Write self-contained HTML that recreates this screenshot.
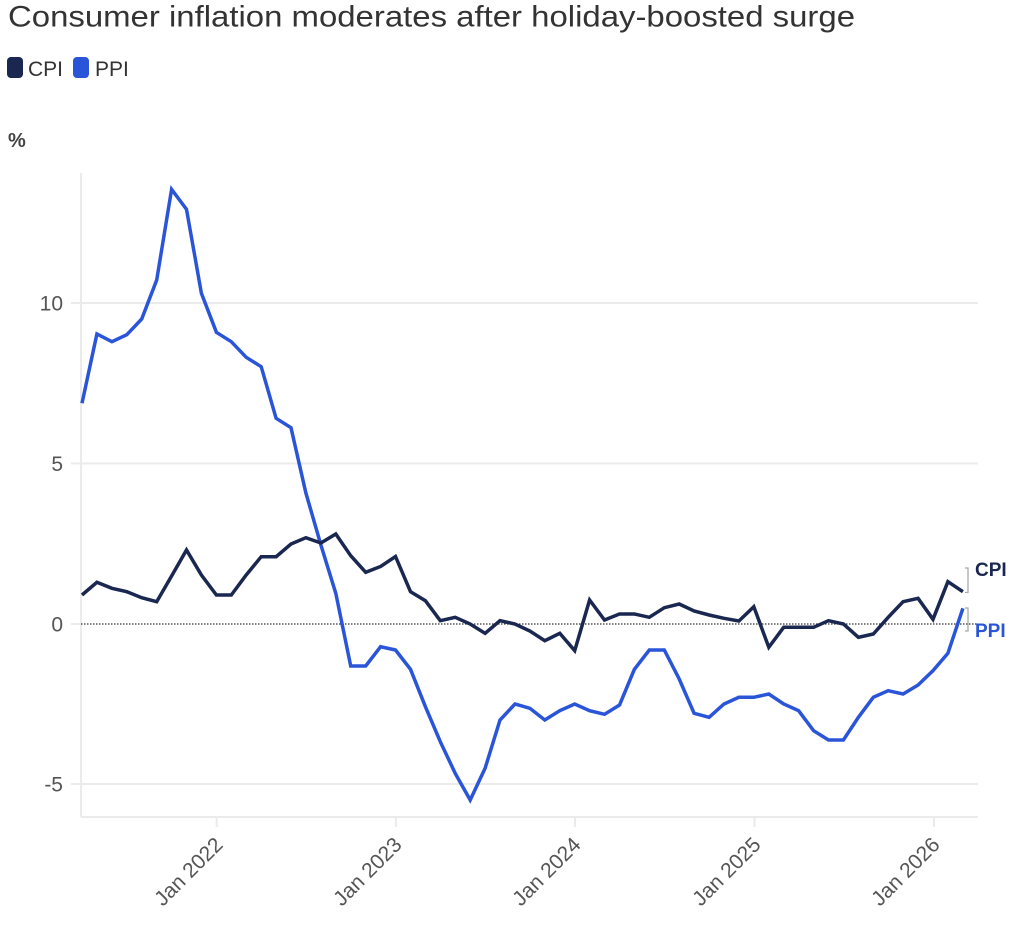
<!DOCTYPE html>
<html>
<head>
<meta charset="utf-8">
<style>
  html,body{margin:0;padding:0;background:#fff;}
  svg{display:block;}
  text{font-family:"Liberation Sans", Arial, sans-serif;}
</style>
</head>
<body>
<svg width="1024" height="926" viewBox="0 0 1024 926" xmlns="http://www.w3.org/2000/svg">
  <!-- Title -->
  <text x="8" y="26.5" font-size="30" fill="#333" textLength="847" lengthAdjust="spacingAndGlyphs">Consumer inflation moderates after holiday-boosted surge</text>

  <!-- Legend -->
  <rect x="7" y="57" width="16" height="21" rx="4" fill="#1a2750"/>
  <text x="28" y="76" font-size="21" fill="#333">CPI</text>
  <rect x="73" y="57" width="16" height="21" rx="4" fill="#2b55d8"/>
  <text x="95" y="76" font-size="21" fill="#333">PPI</text>

  <!-- Unit label -->
  <text x="8" y="147" font-size="20" font-weight="bold" fill="#444">%</text>

  <!-- Grid lines -->
  <g stroke="#ebebeb" stroke-width="2">
    <line x1="71" y1="303" x2="978" y2="303"/>
    <line x1="71" y1="463.5" x2="978" y2="463.5"/>
    <line x1="71" y1="784" x2="978" y2="784"/>
    <line x1="71" y1="624" x2="81" y2="624"/>
    <!-- axes -->
    <line x1="81" y1="173" x2="81" y2="817"/>
    <line x1="81" y1="817" x2="978" y2="817"/>
    <!-- x ticks -->
    <line x1="216.7" y1="817" x2="216.7" y2="827"/>
    <line x1="395.9" y1="817" x2="395.9" y2="827"/>
    <line x1="575" y1="817" x2="575" y2="827"/>
    <line x1="754.5" y1="817" x2="754.5" y2="827"/>
    <line x1="934" y1="817" x2="934" y2="827"/>
  </g>

  <!-- Zero line -->
  <line x1="81" y1="624" x2="978" y2="624" stroke="#333" stroke-width="1.3" stroke-dasharray="1.5,1.5"/>

  <!-- Y tick labels -->
  <g font-size="21" fill="#555" text-anchor="end">
    <text x="63" y="310.5">10</text>
    <text x="63" y="471">5</text>
    <text x="63" y="631.5">0</text>
    <text x="63" y="791.5">-5</text>
  </g>

  <!-- X tick labels -->
  <g font-size="21" fill="#555" text-anchor="end">
    <text transform="translate(224,846) rotate(-45)">Jan 2022</text>
    <text transform="translate(403,846) rotate(-45)">Jan 2023</text>
    <text transform="translate(582,846) rotate(-45)">Jan 2024</text>
    <text transform="translate(762,846) rotate(-45)">Jan 2025</text>
    <text transform="translate(941,846) rotate(-45)">Jan 2026</text>
  </g>

  <!-- PPI series -->
  <polyline fill="none" stroke="#2b55d8" stroke-width="3.5" stroke-linejoin="miter" stroke-linecap="butt"
    points="
82.0,403.3 96.9,334.0 111.9,341.7 126.8,334.7 141.7,319.0 156.7,280.0 171.6,189.3 186.5,209.3 201.4,293.3 216.4,332.3
231.3,341.7 246.2,357.3 261.2,366.7 276.1,418.3 291.0,427.7 305.9,493.0 320.9,545.0 335.8,593.3 350.7,666.0 365.7,666.0
380.6,646.7 395.5,650.0 410.5,669.3 425.4,706.7 440.3,741.7 455.2,773.3 470.2,800.0 485.1,768.3 500.0,720.0 515.0,704.0
529.9,708.3 544.8,720.0 559.8,710.7 574.7,704.0 589.6,710.7 604.5,714.3 619.5,705.0 634.4,669.3 649.3,650.0 664.3,650.0
679.2,679.0 694.1,713.3 709.1,717.3 724.0,704.0 738.9,697.3 753.8,697.3 768.8,694.0 783.7,704.0 798.6,710.7 813.6,730.7
828.5,740.0 843.4,740.0 858.4,717.3 873.3,697.3 888.2,690.7 903.1,694.0 918.1,685.0 933.0,670.7 947.9,653.3 962.9,608.3"/>

  <!-- CPI series -->
  <polyline fill="none" stroke="#1a2750" stroke-width="3.5" stroke-linejoin="miter" stroke-linecap="butt"
    points="
82.0,595.0 96.9,582.3 111.9,588.3 126.8,591.7 141.7,597.7 156.7,601.7 171.6,576.0 186.5,550.0 201.4,575.0 216.4,595.0
231.3,595.0 246.2,575.0 261.2,556.7 276.1,556.7 291.0,544.0 305.9,537.7 320.9,543.0 335.8,534.0 350.7,555.7 365.7,572.3
380.6,566.5 395.5,556.5 410.5,591.7 425.4,600.7 440.3,620.7 455.2,617.3 470.2,624.0 485.1,633.3 500.0,620.7 515.0,624.0
529.9,631.0 544.8,640.7 559.8,633.3 574.7,650.7 589.6,600.0 604.5,620.0 619.5,614.0 634.4,614.0 649.3,617.3 664.3,607.7
679.2,604.0 694.1,611.0 709.1,615.0 724.0,618.3 738.9,621.0 753.8,606.7 768.8,647.3 783.7,627.3 798.6,627.3 813.6,627.3
828.5,620.7 843.4,624.0 858.4,637.3 873.3,634.0 888.2,617.3 903.1,601.7 918.1,598.3 933.0,619.3 947.9,581.7 962.9,591.7"/>

  <!-- End label brackets -->
  <g stroke="#aaa" stroke-width="1.3" fill="none">
    <polyline points="965,568 968,568 968,592.5 965,592.5"/>
    <polyline points="965,608 968,608 968,631 965,631"/>
  </g>

  <!-- End labels -->
  <text x="975" y="576" font-size="19" font-weight="bold" fill="#1a2750">CPI</text>
  <text x="975" y="637" font-size="19" font-weight="bold" fill="#2b55d8">PPI</text>
</svg>
</body>
</html>
